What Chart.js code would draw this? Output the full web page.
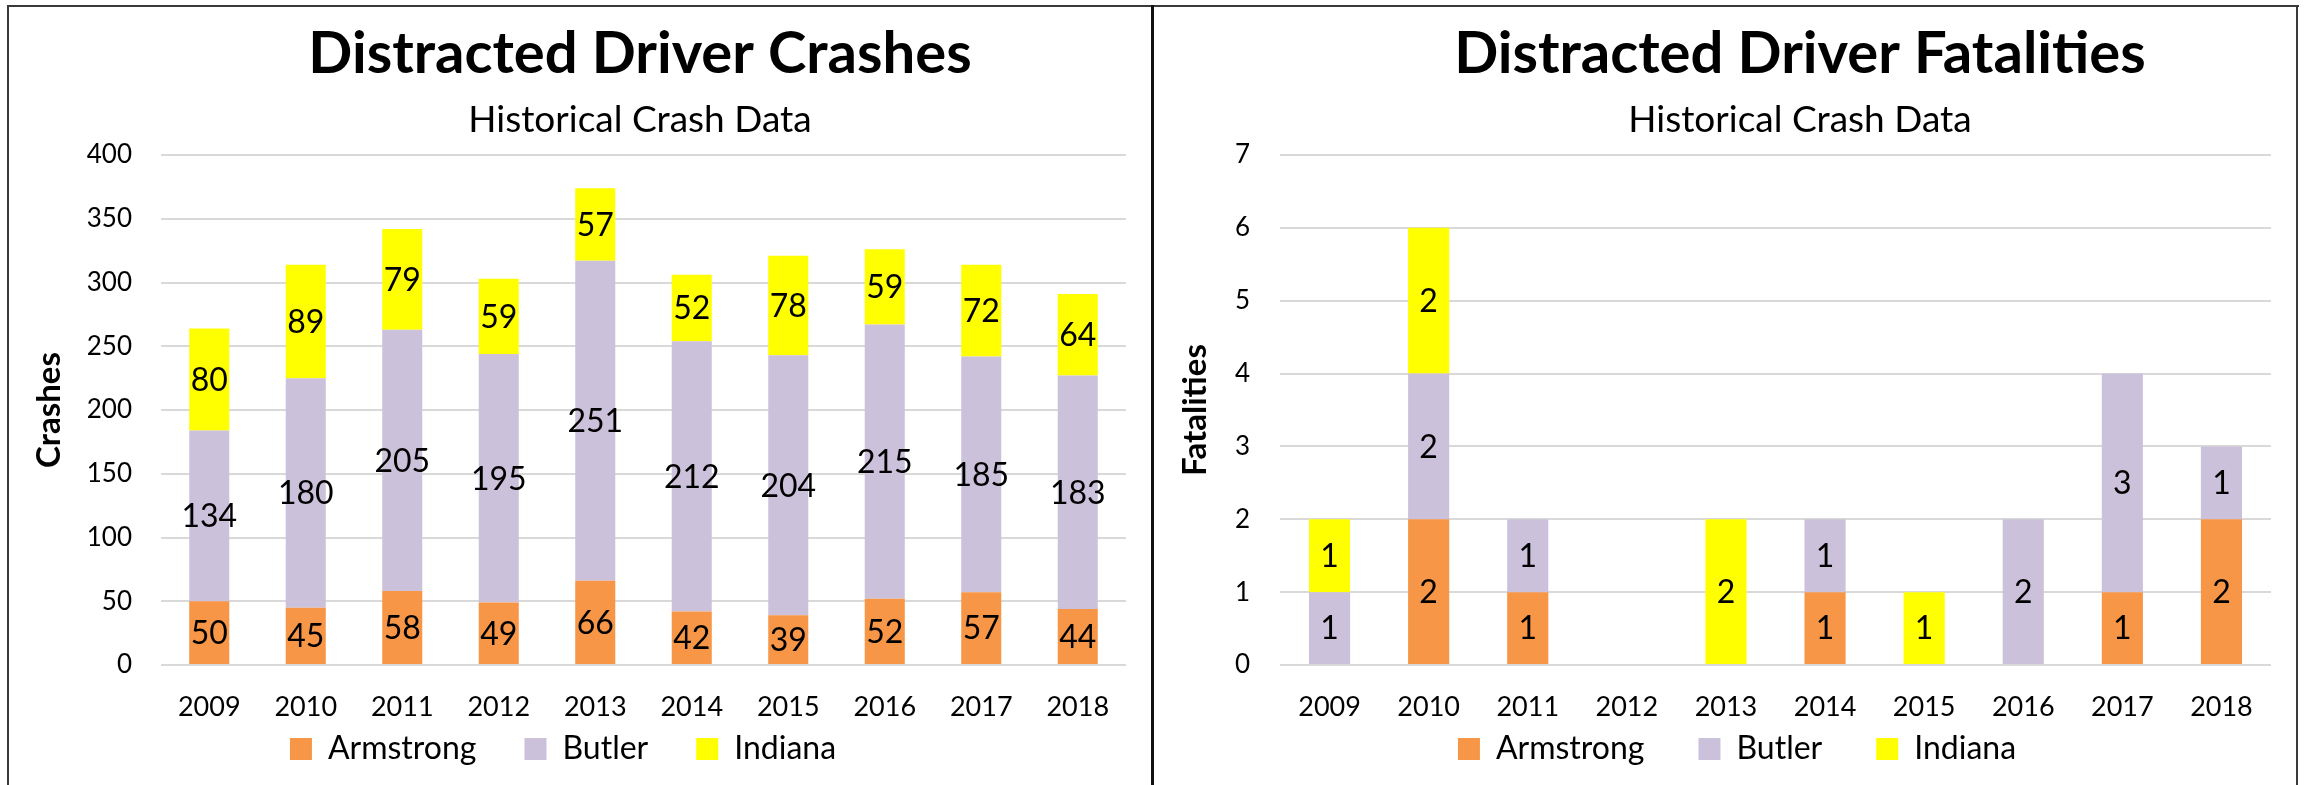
<!DOCTYPE html>
<html>
<head>
<meta charset="utf-8">
<script src="https://cdn.jsdelivr.net/npm/chart.js@4.4.1/dist/chart.umd.min.js"></script>
<style>
  html, body { margin: 0; padding: 0; background: #ffffff; }
  #page { position: relative; width: 2306px; height: 785px; overflow: hidden; background: #ffffff; }
  canvas { position: absolute; top: 0; }
  #crashCanvas { left: 0; }
  #fatalCanvas { left: 1153px; }
  .rule { position: absolute; z-index: 2; }
</style>
</head>
<body>
<div id="page">
  <canvas id="crashCanvas" width="1150" height="830"></canvas>
  <canvas id="fatalCanvas" width="1145" height="830"></canvas>
  <div class="rule" style="left:7px; top:5px; width:2292px; height:2px; background:#3a3a3a;"></div>
  <div class="rule" style="left:7px; top:5px; width:2px; height:780px; background:#3a3a3a;"></div>
  <div class="rule" style="left:1151px; top:5px; width:3px; height:780px; background:#111111;"></div>
  <div class="rule" style="left:2296px; top:5px; width:2px; height:780px; background:#3a3a3a;"></div>
</div>
<script>
// Years shown on both charts
const years = ['2009', '2010', '2011', '2012', '2013', '2014', '2015', '2016', '2017', '2018'];
const counties = ['Armstrong', 'Butler', 'Indiana'];

// Distracted driver crashes per county
const crashesArmstrong = [50, 45, 58, 49, 66, 42, 39, 52, 57, 44];
const crashesButler    = [134, 180, 205, 195, 251, 212, 204, 215, 185, 183];
const crashesIndiana   = [80, 89, 79, 59, 57, 52, 78, 59, 72, 64];

// Distracted driver fatalities per county
const fatalArmstrong = [0, 2, 1, 0, 0, 1, 0, 0, 1, 2];
const fatalButler    = [1, 2, 1, 0, 0, 1, 0, 2, 3, 1];
const fatalIndiana   = [1, 2, 0, 0, 2, 0, 1, 0, 0, 0];

// Value axis ticks
const crashTicks = [0, 50, 100, 150, 200, 250, 300, 350, 400];
const fatalTicks = [0, 1, 2, 3, 4, 5, 6, 7];

const countyColors = ['#F79646', '#CCC1DA', '#FFFF00'];
const FONT = 'Lato, Carlito, "Open Sans", sans-serif';

const LEGEND_FONT = 32;
const XAXIS_HEIGHT = 60;
const CANVAS_HEIGHT = 830;
const PLOT_BOTTOM = 665;

// Heading (title + subtitle) drawn above the plot
const headingPlugin = {
  id: 'heading',
  afterDraw(chart, args, opts) {
    const ctx = chart.ctx;
    ctx.save();
    ctx.fillStyle = '#000000';
    ctx.textAlign = 'center';
    ctx.textBaseline = 'alphabetic';
    ctx.font = 'bold 58px ' + FONT;
    ctx.fillText(opts.text, opts.centerX, 73);
    ctx.font = '37px ' + FONT;
    ctx.fillText(opts.subtext, opts.centerX, 132);
    ctx.restore();
  }
};

// Tucks the legend up close under the year labels
const legendOffsetPlugin = {
  id: 'legendOffset',
  afterLayout(chart, args, opts) {
    const lg = chart.legend;
    if (!lg) return;
    lg.top += opts.dy;
    lg.bottom += opts.dy;
  }
};

// Value labels in the middle of every non-empty segment
const segmentLabelPlugin = {
  id: 'segmentLabels',
  afterDatasetsDraw(chart) {
    const ctx = chart.ctx;
    ctx.save();
    ctx.fillStyle = '#000000';
    ctx.font = '32px ' + FONT;
    ctx.textAlign = 'center';
    ctx.textBaseline = 'middle';
    chart.data.datasets.forEach((ds, i) => {
      const meta = chart.getDatasetMeta(i);
      if (meta.hidden) return;
      meta.data.forEach((bar, j) => {
        const v = ds.data[j];
        if (!v) return;
        ctx.fillText(String(v), bar.x, (bar.y + bar.base) / 2 + 1);
      });
    });
    ctx.restore();
  }
};

function stackedChart(canvasId, cfg) {
  const datasets = cfg.series.map((values, i) => ({
    label: counties[i],
    data: values,
    backgroundColor: countyColors[i],
    borderWidth: 0,
    categoryPercentage: 1.0,
    barPercentage: 0.415
  }));
  const gap = cfg.legendGap;
  const legendHeight = LEGEND_FONT + gap + 10;
  const padBottom = CANVAS_HEIGHT - PLOT_BOTTOM - XAXIS_HEIGHT - legendHeight;
  const legendTop = 749 - gap - LEGEND_FONT / 2;
  return new Chart(document.getElementById(canvasId), {
    type: 'bar',
    data: { labels: years, datasets },
    options: {
      responsive: false,
      animation: false,
      layout: { padding: { top: 155, bottom: padBottom, left: cfg.padLeft, right: cfg.padRight } },
      scales: {
        x: {
          stacked: true,
          grid: { display: false, drawTicks: false },
          border: { display: false },
          ticks: { color: '#000000', font: { family: FONT, size: 27 }, padding: 26, maxRotation: 0, autoSkip: false },
          afterFit(scale) { scale.height = XAXIS_HEIGHT; }
        },
        y: {
          stacked: true,
          min: cfg.ticks[0],
          max: cfg.ticks[cfg.ticks.length - 1],
          afterBuildTicks(scale) { scale.ticks = cfg.ticks.map(v => ({ value: v })); },
          grid: { color: '#D9D9D9', lineWidth: 2, drawTicks: false },
          border: { display: false },
          ticks: { color: '#000000', font: { family: FONT, size: 26 }, padding: cfg.tickPad },
          title: {
            display: true,
            text: cfg.axisTitle,
            color: '#000000',
            font: { family: FONT, size: 33, weight: 'bold' },
            padding: { top: cfg.titlePad, bottom: 0 }
          },
          afterFit(scale) { scale.width = cfg.axisWidth; }
        }
      },
      plugins: {
        legend: {
          position: 'bottom',
          labels: {
            color: '#000000',
            font: { family: FONT, size: LEGEND_FONT },
            boxWidth: 22,
            boxHeight: 22,
            padding: gap
          }
        },
        legendOffset: { dy: legendTop - (PLOT_BOTTOM + XAXIS_HEIGHT) },
        tooltip: { enabled: false },
        heading: { text: cfg.title, subtext: 'Historical Crash Data', centerX: cfg.titleX }
      }
    },
    plugins: [headingPlugin, segmentLabelPlugin, legendOffsetPlugin]
  });
}

stackedChart('crashCanvas', {
  series: [crashesArmstrong, crashesButler, crashesIndiana],
  ticks: crashTicks,
  axisTitle: 'Crashes',
  title: 'Distracted Driver Crashes',
  titleX: 640,
  padLeft: 0,
  padRight: 24,
  axisWidth: 161,
  tickPad: 29,
  titlePad: 30,
  legendGap: 48
});

stackedChart('fatalCanvas', {
  series: [fatalArmstrong, fatalButler, fatalIndiana],
  ticks: fatalTicks,
  axisTitle: 'Fatalities',
  title: 'Distracted Driver Fatalities',
  titleX: 647,
  padLeft: 50,
  padRight: 27,
  axisWidth: 77,
  tickPad: 30,
  titlePad: -27,
  legendGap: 54
});
</script>
</body>
</html>
